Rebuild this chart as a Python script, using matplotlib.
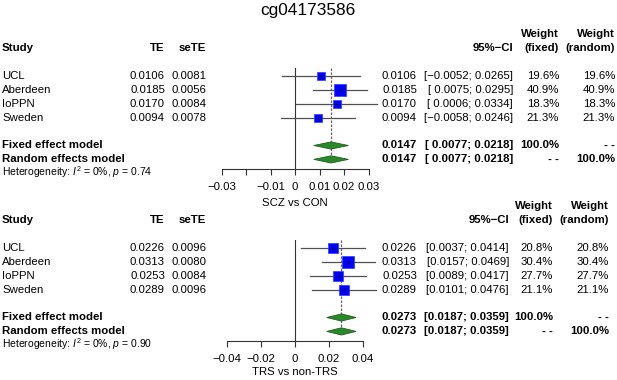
import matplotlib
matplotlib.use("Agg")
import matplotlib.pyplot as plt
from matplotlib.patches import Polygon
import numpy as np

plt.rcParams['font.family'] = ['Liberation Sans', 'DejaVu Sans']
plt.rcParams['mathtext.fontset'] = 'custom'
plt.rcParams['mathtext.rm'] = 'Liberation Sans'
plt.rcParams['mathtext.it'] = 'Liberation Sans:italic'

title = "cg04173586"
studies = ["UCL", "Aberdeen", "IoPPN", "Sweden"]

# Panel 1: SCZ vs CON
te1 = [0.0106, 0.0185, 0.0170, 0.0094]
se1 = [0.0081, 0.0056, 0.0084, 0.0078]
lo1 = [-0.0052, 0.0075, 0.0006, -0.0058]
hi1 = [0.0265, 0.0295, 0.0334, 0.0246]
w1 = [19.6, 40.9, 18.3, 21.3]
pooled1 = 0.0147
pooled_lo1 = 0.0077
pooled_hi1 = 0.0218
het_p1 = "0.74"
ticks1 = [-0.03, -0.02, -0.01, 0, 0.01, 0.02, 0.03]
ticklabels1 = ["−0.03", "", "−0.01", "0", "0.01", "0.02", "0.03"]
xlabel1 = "SCZ vs CON"

# Panel 2: TRS vs non-TRS
te2 = [0.0226, 0.0313, 0.0253, 0.0289]
se2 = [0.0096, 0.0080, 0.0084, 0.0096]
lo2 = [0.0037, 0.0157, 0.0089, 0.0101]
hi2 = [0.0414, 0.0469, 0.0417, 0.0476]
w2 = [20.8, 30.4, 27.7, 21.1]
pooled2 = 0.0273
pooled_lo2 = 0.0187
pooled_hi2 = 0.0359
het_p2 = "0.90"
ticks2 = [-0.04, -0.02, 0, 0.02, 0.04]
ticklabels2 = ["−0.04", "−0.02", "0", "0.02", "0.04"]
xlabel2 = "TRS vs non-TRS"

W, H = 617, 380
fig = plt.figure(figsize=(W / 100, H / 100), dpi=100)
bg = fig.add_axes([0, 0, 1, 1])
bg.set_xlim(0, W)
bg.set_ylim(H, 0)
bg.axis('off')

FS = 8.2
bg.text(308, 10, title, ha='center', va='center', fontsize=12.4)

DASH = "- -"


def fmt(v):
    return f"{v:.4f}".replace("-", "−")


def panel(y0, te, se, lo, hi, w, pooled, plo, phi, hetp, ticks, tlabels, xlabel,
          px_per_unit, cols, xlab_off):
    step = 13.9
    rows = [y0 + i * step for i in range(len(te))]
    yfix = y0 + 5 * step
    yran = y0 + 6 * step
    yhet = y0 + 7 * step - 1
    yhead = y0 - 2 * step
    yw = y0 - 3 * step
    c_te, c_se, c_est, c_ci, c_wf, c_wr = cols
    bold = dict(fontsize=FS, fontweight='bold', va='center')
    norm = dict(fontsize=FS, va='center')
    # headers
    bg.text(2, yhead, "Study", ha='left', **bold)
    bg.text(c_te, yhead, "TE", ha='right', **bold)
    bg.text(c_se, yhead, "seTE", ha='right', **bold)
    bg.text(c_ci, yhead, "95%−CI", ha='right', **bold)
    bg.text(c_wf, yw, "Weight", ha='right', **bold)
    bg.text(c_wr, yw, "Weight", ha='right', **bold)
    bg.text(c_wf, yhead, "(fixed)", ha='right', **bold)
    bg.text(c_wr, yhead, "(random)", ha='right', **bold)
    pad = any(l < 0 for l in lo)

    def ci_str(a, b):
        s = fmt(a)
        if pad and a >= 0:
            s = " " + s
        return f"[{s}; {fmt(b)}]"
    for i, y in enumerate(rows):
        bg.text(2, y, studies[i], ha='left', **norm)
        bg.text(c_te, y, fmt(te[i]), ha='right', **norm)
        bg.text(c_se, y, fmt(se[i]), ha='right', **norm)
        bg.text(c_est, y, fmt(te[i]), ha='right', **norm)
        bg.text(c_ci, y, ci_str(lo[i], hi[i]), ha='right', **norm)
        bg.text(c_wf, y, f"{w[i]:.1f}%", ha='right', **norm)
        bg.text(c_wr, y, f"{w[i]:.1f}%", ha='right', **norm)
    bg.text(2, yfix, "Fixed effect model", ha='left', **bold)
    bg.text(2, yran, "Random effects model", ha='left', **bold)
    for y, a, b in [(yfix, "100.0%", DASH), (yran, DASH, "100.0%")]:
        bg.text(c_est, y, fmt(pooled), ha='right', **bold)
        bg.text(c_ci, y, ci_str(plo, phi), ha='right', **bold)
        bg.text(c_wf, y, a, ha='right', **bold)
        bg.text(c_wr, y, b, ha='right', **bold)
    bg.text(2, yhet, r"Heterogeneity: $I^2$ = 0%, $p$ = " + hetp, ha='left',
            va='center', fontsize=7.5)

    # forest axes
    xmin, xmax = ticks[0], ticks[-1]
    zero_px = 295
    x0 = zero_px + xmin * px_per_unit
    x1 = zero_px + xmax * px_per_unit
    ytop = y0 - 8
    ybot = yran + 10
    ax = fig.add_axes([x0 / W, 1 - ybot / H, (x1 - x0) / W, (ybot - ytop) / H])
    ax.set_xlim(xmin, xmax)
    ax.set_ylim(ybot, ytop)
    ax.patch.set_alpha(0)
    for s in ['top', 'right', 'left']:
        ax.spines[s].set_visible(False)
    ax.spines['bottom'].set_color('#333333')
    ax.spines['bottom'].set_linewidth(0.8)
    ax.set_yticks([])
    ax.set_xticks(ticks)
    ax.set_xticklabels(tlabels, fontsize=FS)
    ax.tick_params(axis='x', direction='out', length=4, width=0.8,
                   color='#333333', pad=5)
    ax.axvline(0, color='#333333', lw=0.8)
    ax.plot([pooled, pooled], [ytop, yran + 3], color='#666666', lw=0.9,
            ls=(0, (2, 1.2)), clip_on=False)
    wmax = max(w)
    for i, y in enumerate(rows):
        ax.plot([lo[i], hi[i]], [y, y], color='#505050', lw=0.9,
                clip_on=False, zorder=2)
        side = 11.5 * np.sqrt(w[i] / wmax) * 0.72
        ax.plot([te[i]], [y], marker='s', ms=side, mfc='#0000ff',
                mec='#2a3cff', mew=0.5, ls='none', zorder=3, clip_on=False)
        ax.plot([te[i]], [y], marker='+', ms=3, mec='#000033', mew=0.5,
                ls='none', zorder=4, clip_on=False)
    for y in (yfix, yran):
        d = Polygon([[plo, y], [pooled, y - 3.6], [phi, y], [pooled, y + 3.6]],
                    closed=True, facecolor='#2a8a2a', edgecolor='#1e5e1e',
                    lw=0.6, zorder=3, clip_on=False)
        ax.add_patch(d)
    bg.text(zero_px + (xmin + xmax) / 2 * px_per_unit, ybot + xlab_off, xlabel,
            ha='center', va='center', fontsize=FS)


panel(76, te1, se1, lo1, hi1, w1, pooled1, pooled_lo1, pooled_hi1, het_p1,
      ticks1, ticklabels1, xlabel1, 2450, (165, 206, 417, 513, 559, 615), 33.5)
panel(248, te2, se2, lo2, hi2, w2, pooled2, pooled_lo2, pooled_hi2, het_p2,
      ticks2, ticklabels2, xlabel2, 1700, (165, 206, 417, 509, 553, 609), 31)

fig.savefig("out.png", dpi=100)
